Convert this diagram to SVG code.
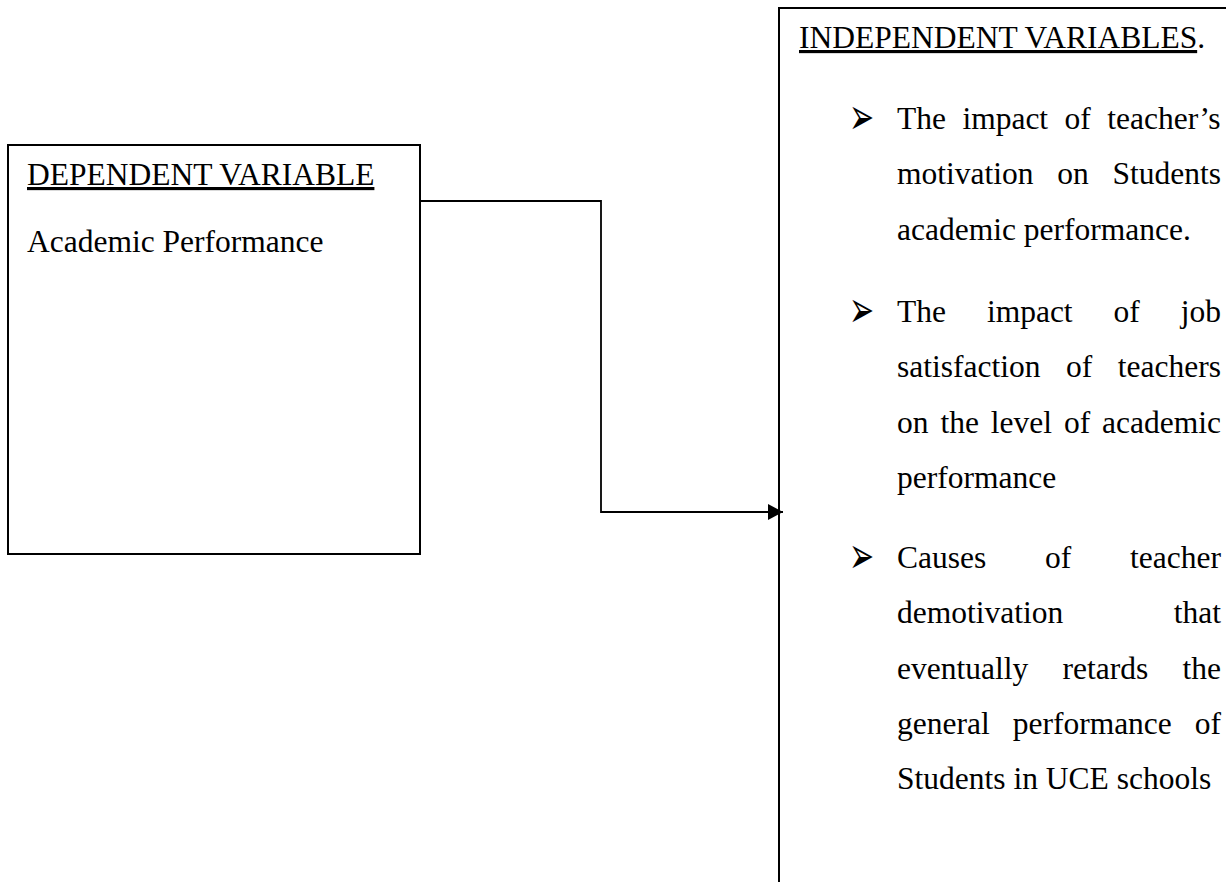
<svg xmlns="http://www.w3.org/2000/svg" width="1226" height="882" viewBox="0 0 1226 882">
<style>
.box{fill:#fff;stroke:#000;stroke-width:2}
.t{font-family:"Liberation Serif","Times New Roman",serif;font-size:31.5px;fill:#000}
.u{text-decoration:underline}
.b{font-family:"DejaVu Sans",sans-serif;font-size:30px;fill:#000}
.conn{fill:none;stroke:#000;stroke-width:1.8}
</style>
<defs>
<marker id="arr" markerUnits="userSpaceOnUse" markerWidth="16" markerHeight="16" refX="15" refY="8" orient="auto">
<path d="M0,0 L15,8 L0,16 Z" fill="#000"/>
</marker>
</defs>
<rect width="1226" height="882" fill="#fff"/>
<g id="dependent">
<rect class="box" x="8" y="145" width="412" height="409"/>
<text class="t u" x="27" y="185">DEPENDENT VARIABLE</text>
<text class="t" x="27" y="252">Academic Performance</text>
</g>
<g id="independent">
<rect class="box" x="779" y="8" width="500" height="900"/>
<text class="t" x="799" y="48"><tspan class="u">INDEPENDENT VARIABLES</tspan>.</text>
<text class="b" transform="translate(849,119) scale(1,1.7)" x="0" y="9">➢</text>
<text class="t" y="129"><tspan x="897">The</tspan><tspan x="962.4">impact</tspan><tspan x="1064.6">of</tspan><tspan x="1107.3">teacher’s</tspan></text>
<text class="t" y="184.3"><tspan x="897">motivation</tspan><tspan x="1057.3">on</tspan><tspan x="1112.5">Students</tspan></text>
<text class="t" x="897" y="239.6">academic performance.</text>
<text class="b" transform="translate(849,312) scale(1,1.7)" x="0" y="9">➢</text>
<text class="t" y="322"><tspan x="897">The</tspan><tspan x="986.9">impact</tspan><tspan x="1113.6">of</tspan><tspan x="1180.8">job</tspan></text>
<text class="t" y="377.3"><tspan x="897">satisfaction</tspan><tspan x="1066">of</tspan><tspan x="1117.8">teachers</tspan></text>
<text class="t" y="432.6"><tspan x="897">on</tspan><tspan x="940.4">the</tspan><tspan x="990.8">level</tspan><tspan x="1063.9">of</tspan><tspan x="1102.1">academic</tspan></text>
<text class="t" x="897" y="487.9">performance</text>
<text class="b" transform="translate(849,558) scale(1,1.7)" x="0" y="9">➢</text>
<text class="t" y="568"><tspan x="897">Causes</tspan><tspan x="1045">of</tspan><tspan x="1130.1">teacher</tspan></text>
<text class="t" y="623.3"><tspan x="897">demotivation</tspan><tspan x="1173.8">that</tspan></text>
<text class="t" y="678.6"><tspan x="897">eventually</tspan><tspan x="1062.5">retards</tspan><tspan x="1182.5">the</tspan></text>
<text class="t" y="733.9"><tspan x="897">general</tspan><tspan x="1012.7">performance</tspan><tspan x="1194.8">of</tspan></text>
<text class="t" x="897" y="789.2">Students in UCE schools</text>
</g>
<g id="connectors">
<path class="conn" d="M420,201 H601 V512 H783" marker-end="url(#arr)"/>
</g>
</svg>
